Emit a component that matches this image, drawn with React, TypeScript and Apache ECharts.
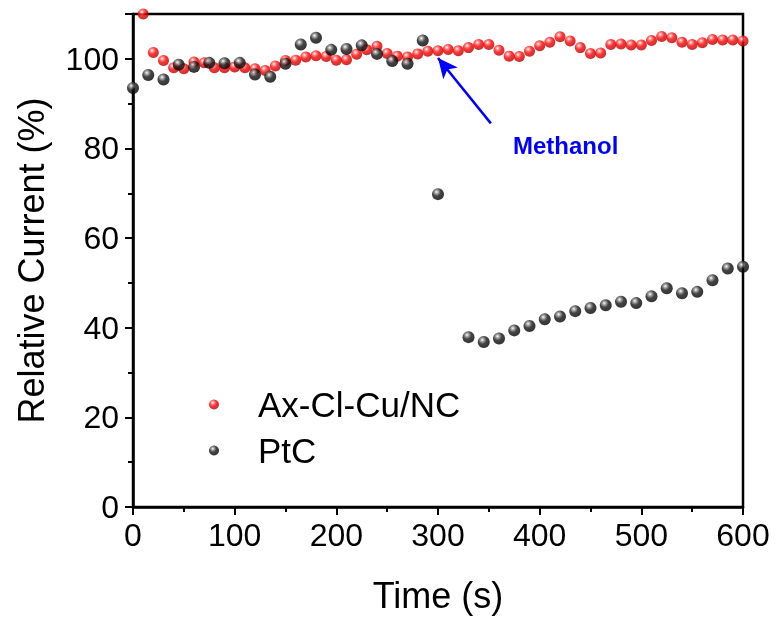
import React, { useEffect, useRef } from "react";
import * as echarts from "echarts";

const redTimes = [10, 20, 30, 40, 50, 60, 70, 80, 90, 100, 110, 120, 130, 140, 150, 160, 170, 180, 190, 200, 210, 220, 230, 240, 250, 260, 270, 280, 290, 300, 310, 320, 330, 340, 350, 360, 370, 380, 390, 400, 410, 420, 430, 440, 450, 460, 470, 480, 490, 500, 510, 520, 530, 540, 550, 560, 570, 580, 590, 600];
const redValues = [110, 101.4, 99.6, 98.0, 97.8, 99.3, 99.1, 98.0, 98.0, 98.2, 98.0, 97.8, 97.4, 98.4, 99.6, 99.7, 100.4, 100.7, 100.5, 99.7, 99.8, 101.0, 102.0, 102.8, 101.2, 100.6, 100.4, 101.1, 101.7, 101.8, 102.1, 101.8, 102.5, 103.2, 103.2, 101.9, 100.6, 100.5, 101.7, 102.9, 103.7, 104.9, 104.0, 102.5, 101.2, 101.3, 103.2, 103.3, 103.1, 103.1, 104.1, 105.0, 104.7, 103.7, 103.2, 103.6, 104.3, 104.2, 104.2, 104.0];

const blackTimes = [0, 15, 30, 45, 60, 75, 90, 105, 120, 135, 150, 165, 180, 195, 210, 225, 240, 255, 270, 285, 300, 330, 345, 360, 375, 390, 405, 420, 435, 450, 465, 480, 495, 510, 525, 540, 555, 570, 585, 600];
const blackValues = [93.5, 96.4, 95.4, 98.7, 98.2, 99.1, 99.0, 99.1, 96.5, 96.0, 98.9, 103.2, 104.7, 102.0, 102.2, 103.0, 101.1, 99.5, 98.9, 104.1, 69.8, 37.9, 36.8, 37.6, 39.4, 40.4, 41.9, 42.5, 43.7, 44.4, 45.0, 45.8, 45.5, 47.0, 48.8, 47.7, 48.0, 50.6, 53.2, 53.6];

const seriesNames = ["Ax-Cl-Cu/NC", "PtC"];
const arrowFrom = [352, 85.6];
const arrowTo = [300, 100.2];
const annotation = "Methanol";

const FONT = "'Liberation Sans', Arial, sans-serif";

const redGrad = {
  type: "radial", x: 0.38, y: 0.32, r: 0.7,
  colorStops: [
    { offset: 0, color: "#ffffff" },
    { offset: 0.22, color: "#ff7070" },
    { offset: 0.5, color: "#ff0000" },
    { offset: 1, color: "#b00000" },
  ],
};
const blackGrad = {
  type: "radial", x: 0.38, y: 0.32, r: 0.7,
  colorStops: [
    { offset: 0, color: "#ffffff" },
    { offset: 0.2, color: "#909090" },
    { offset: 0.5, color: "#151515" },
    { offset: 1, color: "#000000" },
  ],
};

export default function App() {
  const ref = useRef<HTMLDivElement>(null);
  useEffect(() => {
    const chart = echarts.init(ref.current!, null, { renderer: "svg" });
    const axisCommon = {
      axisLine: { show: true, lineStyle: { color: "#000", width: 2.5 } },
      axisTick: { show: true, inside: false, length: 8, lineStyle: { color: "#000", width: 2 } },
      minorTick: { show: true, splitNumber: 2, length: 5, lineStyle: { color: "#000", width: 2 } },
      splitLine: { show: false },
      axisLabel: { color: "#000", fontSize: 32, fontFamily: FONT, margin: 12 },
      nameTextStyle: { color: "#000", fontSize: 36, fontFamily: FONT },
    };
    chart.setOption({
      animation: false,
      grid: { left: 133, right: 36, top: 14, bottom: 112, show: true, borderColor: "#000", borderWidth: 2.5 },
      xAxis: {
        type: "value", min: 0, max: 600, interval: 100,
        name: "Time (s)", nameLocation: "middle", nameGap: 70,
        ...axisCommon,
      },
      yAxis: {
        type: "value", min: 0, max: 110, interval: 20,
        name: "Relative Current (%)", nameLocation: "middle", nameGap: 84,
        ...axisCommon,
        axisLabel: { ...axisCommon.axisLabel, showMaxLabel: false, margin: 14 },
      },
      legend: {
        orient: "vertical", left: 204, top: 382, itemGap: 11,
        itemWidth: 10, itemHeight: 10, icon: "circle",
        textStyle: { fontSize: 35, fontFamily: FONT, color: "#000", padding: [0, 0, 0, 34] },
        data: seriesNames,
      },
      series: [
        {
          name: seriesNames[0], type: "scatter", symbol: "circle", symbolSize: 11,
          itemStyle: { color: redGrad },
          data: redTimes.map((t, i) => [t, redValues[i]]),
          markLine: {
            silent: true, symbol: ["none", "arrow"], symbolSize: [14, 20],
            lineStyle: { color: "#0000ff", width: 2.5, type: "solid" },
            label: { show: false },
            data: [[{ coord: arrowFrom }, { coord: arrowTo }]],
          },
        },
        {
          name: seriesNames[1], type: "scatter", symbol: "circle", symbolSize: 12,
          itemStyle: { color: blackGrad },
          data: blackTimes.map((t, i) => [t, blackValues[i]]),
        },
      ],
      graphic: [
        {
          type: "text", left: 513, top: 133,
          style: { text: annotation, fill: "#0000ff", font: `bold 24px ${FONT}` },
        },
      ],
    });
    return () => chart.dispose();
  }, []);
  return <div ref={ref} style={{ position: "fixed", left: 0, top: 0, width: 779, height: 619 }} />;
}
